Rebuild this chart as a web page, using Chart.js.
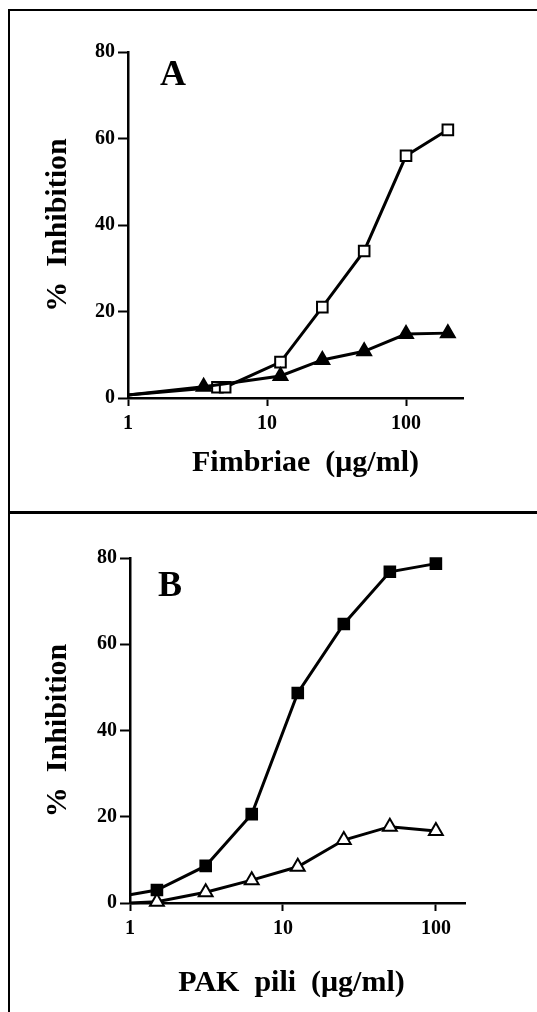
<!DOCTYPE html>
<html>
<head>
<meta charset="utf-8">
<script src="https://cdn.jsdelivr.net/npm/chart.js@4/dist/chart.umd.min.js"></script>
<style>
body { margin: 0; background: #fff; width: 537px; height: 1012px; overflow: hidden; position: relative; }
.frame { position: absolute; left: 8px; top: 9px; width: 529px; height: 1003px; border-left: 2px solid #000; border-top: 2px solid #000; box-sizing: border-box; }
.divider { position: absolute; left: 8px; top: 511px; width: 529px; height: 3px; background: #000; }
.panel { position: absolute; left: 10px; width: 527px; }
</style>
</head>
<body>
<div class="frame"></div>
<div class="divider"></div>
<div class="panel" style="top:11px;height:500px"><canvas id="chartA"></canvas></div>
<div class="panel" style="top:514px;height:498px"><canvas id="chartB"></canvas></div>
<script>
// panel A - fimbriae (ug/ml)
const fimSquareX = [1, 4.4, 5, 12.5, 25, 50, 100, 200];
const fimOpenSquare = [0.7, 2.5, 2.5, 8.3, 21, 34, 56, 62];
const fimTriangleX = [1, 3.5, 12.5, 25, 50, 100, 200];
const fimFilledTriangle = [0.7, 2.6, 5.1, 8.8, 10.8, 14.8, 15];

// panel B - PAK pili (ug/ml)
const pakX = [1, 1.5, 3.125, 6.25, 12.5, 25, 50, 100];
const pakFilledSquare = [1.9, 3, 8.6, 20.6, 48.7, 64.7, 76.8, 78.7];
const pakOpenTriangle = [0, 0.3, 2.5, 5.3, 8.4, 14.6, 17.7, 16.7];

// axes
const xTickValues = [1, 10, 100];
const yTickValues = [0, 20, 40, 60, 80];

Chart.defaults.font.family = '"Liberation Serif", "Times New Roman", serif';
Chart.defaults.font.weight = 'bold';
Chart.defaults.color = '#000';

function pts(xs, ys) {
    return xs.map((x, i) => ({ x: x, y: ys[i] }));
}

// panel letter + x axis title (the title sits a bit off centre in the original)
const panelText = {
    id: 'panelText',
    afterDraw(chart, args, opts) {
        const ctx = chart.ctx, area = chart.chartArea;
        ctx.save();
        ctx.fillStyle = '#000';
        ctx.textAlign = 'center';
        ctx.textBaseline = 'middle';
        ctx.font = 'bold 36px "Liberation Serif", serif';
        ctx.fillText(opts.letter, area.left + opts.dx, area.top + opts.dy);
        ctx.font = 'bold 30px "Liberation Serif", serif';
        ctx.fillText(opts.xTitle, (area.left + area.right) / 2 + opts.titleShift, opts.titleY);
        ctx.restore();
    }
};

function series(data, style, filled) {
    return {
        data: data,
        borderColor: '#000',
        borderWidth: 3,
        pointStyle: style,
        pointRadius: c => c.dataIndex === 0 ? 0 : (style === 'rect' ? 7.5 : 8),
        pointBackgroundColor: filled ? '#000' : '#fff',
        pointBorderColor: '#000',
        pointBorderWidth: 2,
        tension: 0,
        clip: false
    };
}

function makePanel(id, p) {
    new Chart(document.getElementById(id), {
        type: 'line',
        data: { datasets: p.datasets },
        options: {
            responsive: true,
            maintainAspectRatio: false,
            animation: false,
            layout: { padding: { left: 0, top: p.top, right: p.right, bottom: p.bottom } },
            plugins: {
                legend: { display: false },
                tooltip: { enabled: false },
                panelText: { letter: p.letter, dx: p.letterDx, dy: p.letterDy, xTitle: p.xTitle, titleShift: p.titleShift, titleY: p.titleY }
            },
            scales: {
                x: {
                    type: 'logarithmic',
                    min: 1,
                    max: p.xMax,
                    afterBuildTicks: s => { s.ticks = xTickValues.map(v => ({ value: v })); },
                    afterFit: s => { s.height = 100; },
                    ticks: { font: { size: 20 }, padding: 6, maxRotation: 0, callback: v => String(v) },
                    grid: { drawOnChartArea: false, tickLength: 8, tickWidth: 2, color: '#000' },
                    border: { display: true, color: '#000', width: 2.5 }
                },
                y: {
                    min: 0,
                    max: 80,
                    afterBuildTicks: s => { s.ticks = yTickValues.map(v => ({ value: v })); },
                    afterFit: s => { s.width = p.yWidth; },
                    ticks: { font: { size: 20 }, padding: 3 },
                    grid: { drawOnChartArea: false, tickLength: 10, tickWidth: 2, color: '#000' },
                    border: { display: true, color: '#000', width: 2.5 },
                    title: { display: true, text: '%  Inhibition', font: { size: 30, lineHeight: 1 }, padding: { top: 33 } }
                }
            }
        },
        plugins: [panelText]
    });
}

makePanel('chartA', {
    datasets: [
        series(pts(fimTriangleX, fimFilledTriangle), 'triangle', true),
        series(pts(fimSquareX, fimOpenSquare), 'rect', false)
    ],
    xMax: 257, xTitle: 'Fimbriae  (\u03bcg/ml)', titleShift: 10, titleY: 452,
    top: 41, right: 74, bottom: 13, yWidth: 118,
    letter: 'A', letterDx: 45, letterDy: 24
});

makePanel('chartB', {
    datasets: [
        series(pts(pakX, pakOpenTriangle), 'triangle', false),
        series(pts(pakX, pakFilledSquare), 'rect', true)
    ],
    xMax: 155, xTitle: 'PAK  pili  (\u03bcg/ml)', titleShift: -6, titleY: 469,
    top: 44, right: 72, bottom: 9, yWidth: 120,
    letter: 'B', letterDx: 40, letterDy: 29
});
</script>
</body>
</html>
